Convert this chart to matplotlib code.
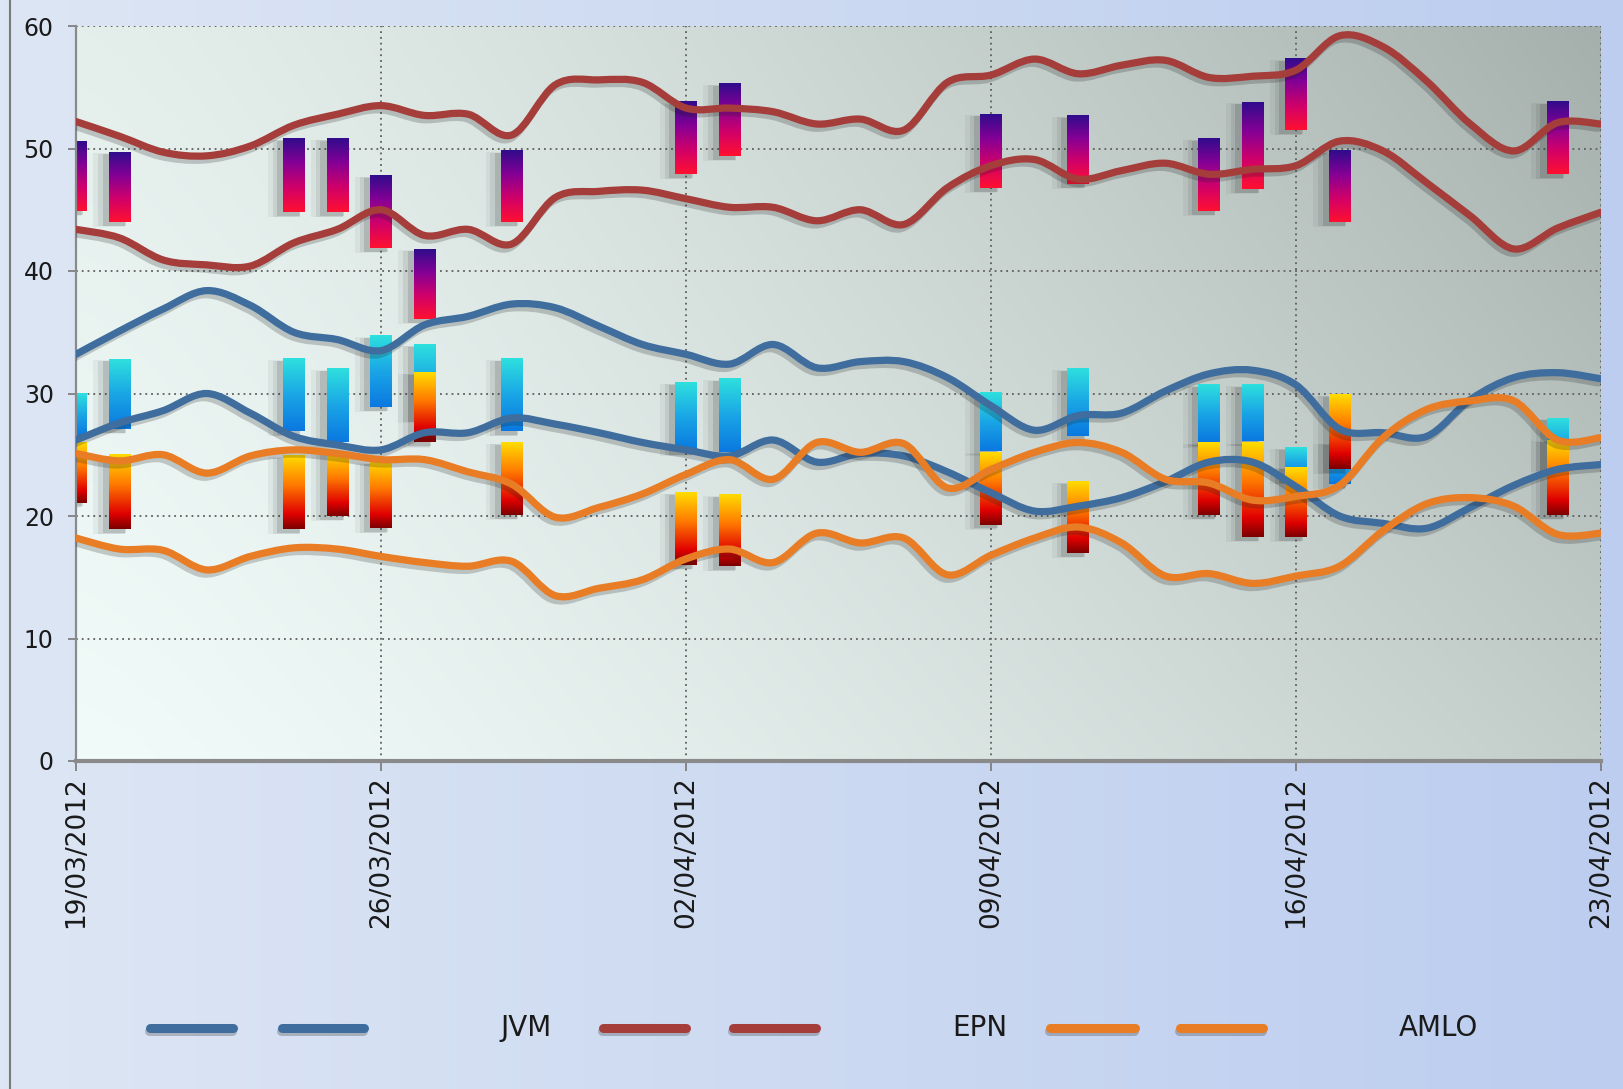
import numpy as np
import matplotlib
matplotlib.use("Agg")
import matplotlib.pyplot as plt
from matplotlib.colors import LinearSegmentedColormap, to_rgb
from matplotlib.lines import Line2D
from matplotlib.patches import Rectangle, PathPatch
from matplotlib.path import Path
import matplotlib.patheffects as pe

# ---------------- data ----------------
# day offsets from 19/03/2012
days = list(range(36))
tick_days = [0, 7, 14, 21, 28, 35]
tick_labels = ['19/03/2012', '26/03/2012', '02/04/2012', '09/04/2012', '16/04/2012', '23/04/2012']
y_ticks = [0, 10, 20, 30, 40, 50, 60]

jvm_upper = [33.2, 35.1, 36.9, 38.4, 37.2, 35.0, 34.4, 33.5, 35.6, 36.3, 37.3, 37.0,
             35.5, 34.0, 33.2, 32.4, 34.0, 32.1, 32.6, 32.6, 31.3, 29.0, 27.0, 28.2,
             28.4, 30.2, 31.6, 31.9, 30.7, 27.1, 26.8, 26.5, 29.5, 31.3, 31.7, 31.2]
jvm_lower = [26.2, 27.6, 28.6, 30.0, 28.4, 26.5, 25.8, 25.4, 26.8, 26.8, 28.0, 27.5,
             26.8, 26.0, 25.4, 24.9, 26.2, 24.4, 25.1, 24.9, 23.6, 21.9, 20.4, 20.8,
             21.5, 22.8, 24.4, 24.4, 22.4, 20.0, 19.4, 19.0, 20.7, 22.5, 23.8, 24.2]
epn_upper = [52.2, 51.0, 49.7, 49.4, 50.2, 51.9, 52.8, 53.5, 52.7, 52.8, 51.1, 55.2,
             55.6, 55.4, 53.3, 53.3, 53.0, 52.0, 52.4, 51.5, 55.4, 56.0, 57.3, 56.1,
             56.8, 57.2, 55.8, 55.9, 56.4, 59.2, 58.3, 55.5, 52.0, 49.8, 52.1, 52.0]
epn_lower = [43.4, 42.7, 40.9, 40.5, 40.4, 42.3, 43.4, 45.0, 42.9, 43.4, 42.2, 46.0,
             46.5, 46.6, 45.9, 45.2, 45.2, 44.1, 45.0, 43.8, 46.8, 48.6, 49.1, 47.5,
             48.2, 48.8, 47.9, 48.3, 48.6, 50.6, 49.8, 47.2, 44.5, 41.8, 43.5, 44.8]
amlo_upper = [25.1, 24.5, 25.0, 23.5, 24.9, 25.4, 25.1, 24.6, 24.6, 23.6, 22.6, 19.9,
              20.7, 21.8, 23.4, 24.6, 23.0, 26.0, 25.2, 25.9, 22.3, 23.8, 25.2, 26.0,
              25.2, 23.0, 22.7, 21.3, 21.6, 22.5, 26.4, 28.7, 29.4, 29.4, 26.2, 26.4]
amlo_lower = [18.2, 17.3, 17.2, 15.6, 16.7, 17.4, 17.3, 16.7, 16.2, 15.9, 16.3, 13.5,
              14.1, 14.8, 16.5, 17.3, 16.2, 18.6, 17.8, 18.2, 15.2, 16.8, 18.2, 19.1,
              17.8, 15.1, 15.3, 14.5, 15.1, 15.9, 18.8, 21.0, 21.5, 20.8, 18.5, 18.6]

bar_days = [0, 1, 5, 6, 7, 8, 10, 14, 15, 21, 23, 26, 27, 28, 29, 34]
epn_bar_top = [50.6, 49.7, 50.8, 50.8, 47.8, 41.8, 49.8, 53.8, 55.3, 52.8, 52.7, 50.8, 53.8, 57.3, 49.8, 53.8]
epn_bar_bottom = [44.9, 44.0, 44.8, 44.8, 41.9, 36.1, 44.0, 47.9, 49.4, 46.8, 47.1, 44.9, 46.7, 51.5, 44.0, 47.9]
jvm_bar_top = [30.0, 32.8, 32.8, 32.0, 34.7, 34.0, 32.8, 30.9, 31.2, 30.1, 32.0, 30.7, 30.7, 25.6, 26.0, 28.0]
jvm_bar_bottom = [26.5, 27.1, 26.9, 26.0, 28.9, 28.0, 26.9, 25.3, 25.2, 25.3, 26.5, 26.0, 26.1, 23.0, 22.6, 24.0]
amlo_bar_top = [26.0, 25.0, 24.9, 25.2, 24.4, 31.7, 26.0, 21.9, 21.7, 25.2, 22.8, 26.0, 26.0, 24.0, 29.9, 26.2]
amlo_bar_bottom = [21.1, 18.9, 18.9, 20.0, 19.0, 26.0, 20.1, 16.0, 15.9, 19.3, 17.0, 20.1, 18.3, 18.3, 23.8, 20.1]

legend_labels = ['JVM', 'EPN', 'AMLO']

# ---------------- styles ----------------
c_jvm = '#3f6d9d'
c_epn = '#a53d3a'
c_amlo = '#e87d25'
cmap_epn = LinearSegmentedColormap.from_list('epn', ['#ff1030', '#d0006a', '#850095', '#300c8c'])
cmap_jvm = LinearSegmentedColormap.from_list('jvm', ['#0a78e0', '#1aa6e6', '#2ee0de'])
cmap_amlo = LinearSegmentedColormap.from_list('amlo', [(0, '#7c0000'), (0.2, '#e00000'),
                                                       (0.6, '#ff7a00'), (1, '#ffdc00')])

W, H = 1623, 1089
fig = plt.figure(figsize=(W / 100, H / 100), dpi=100)

# figure background gradient
bg = fig.add_axes([0, 0, 1, 1], zorder=-10)
gx = np.linspace(0, 1, 256)
gy = np.linspace(0, 1, 64)
GX, GY = np.meshgrid(gx, gy)
left_c = np.array(to_rgb('#dde6f4'))
right_c = np.array(to_rgb('#bccdef'))
img = left_c[None, None, :] * (1 - GX[..., None]) + right_c[None, None, :] * GX[..., None]
bg.imshow(img, extent=[0, 1, 0, 1], aspect='auto', origin='lower')
bg.set_axis_off()

ax = fig.add_axes([76 / W, 1 - 761 / H, (1601 - 76) / W, (761 - 26) / H])

# plot-area gradient (bilinear between corners)
tl = np.array(to_rgb('#e4efec')); tr = np.array(to_rgb('#a5afab'))
bl = np.array(to_rgb('#f1fcfa')); br = np.array(to_rgb('#c3cecb'))
ux = np.linspace(0, 1, 256) ** 1.3
uy = np.linspace(0, 1, 128)
UX, UY = np.meshgrid(ux, uy)
UX = UX[..., None]; UY = UY[..., None]
pimg = (bl * (1 - UX) * (1 - UY) + br * UX * (1 - UY) + tl * (1 - UX) * UY + tr * UX * UY)
ax.imshow(pimg, extent=[0, 35, 0, 60], aspect='auto', origin='lower', zorder=0,
          interpolation='bilinear')

bw = 0.5
grad = np.linspace(0, 1, 128).reshape(-1, 1)


def draw_bars(tops, bottoms, cmap, z):
    for d, t, b in zip(bar_days, tops, bottoms):
        for dx, a, grow in [(-0.24, 0.06, 0.22), (-0.18, 0.09, 0.12), (-0.12, 0.14, 0.04)]:
            ax.add_patch(Rectangle((d - bw / 2 + dx - grow / 2, b - 0.3 - grow / 2),
                                   bw + grow, (t - b) + 0.1 + grow,
                                   facecolor='#2a2a2a', edgecolor='none', alpha=a, zorder=z - 0.1))
        ax.imshow(grad, extent=[d - bw / 2, d + bw / 2, b, t], aspect='auto', origin='lower',
                  cmap=cmap, zorder=z, interpolation='bilinear')


draw_bars(jvm_bar_top, jvm_bar_bottom, cmap_jvm, 2.2)
draw_bars(epn_bar_top, epn_bar_bottom, cmap_epn, 2.3)
draw_bars(amlo_bar_top, amlo_bar_bottom, cmap_amlo, 2.4)


def smooth_path(xs, ys):
    """Smoothed (Catmull-Rom style) cubic Bezier path through the data points."""
    P = np.column_stack([xs, ys]).astype(float)
    n = len(P)
    verts = [P[0]]
    codes = [Path.MOVETO]
    for i in range(n - 1):
        p0 = P[i - 1] if i > 0 else P[i]
        p1, p2 = P[i], P[i + 1]
        p3 = P[i + 2] if i + 2 < n else P[i + 1]
        c1 = p1 + (p2 - p0) / 6.0
        c2 = p2 - (p3 - p1) / 6.0
        verts += [c1, c2, p2]
        codes += [Path.CURVE4] * 3
    return Path(verts, codes)


shadow = [pe.SimpleLineShadow(offset=(-2, -3), shadow_color='#202020', alpha=0.22), pe.Normal()]
for ys, c in [(jvm_upper, c_jvm), (jvm_lower, c_jvm), (epn_upper, c_epn), (epn_lower, c_epn),
              (amlo_upper, c_amlo), (amlo_lower, c_amlo)]:
    patch = PathPatch(smooth_path(days, ys), facecolor='none', edgecolor=c, lw=5.2,
                      capstyle='round', joinstyle='round', zorder=3, path_effects=shadow)
    ax.add_patch(patch)

ax.set_xlim(0, 35)
ax.set_ylim(0, 60)
ax.set_xticks(tick_days)
ax.set_xticklabels(tick_labels, rotation=90, fontsize=19, color='#1a1a1a', va='top', ha='center')
ax.set_yticks(y_ticks)
ax.set_yticklabels([str(v) for v in y_ticks], fontsize=17, color='#1a1a1a')
ax.tick_params(axis='x', length=7, width=1.2, color='#777777', pad=4)
ax.tick_params(axis='y', length=6, width=1.2, color='#777777', pad=10)
ax.grid(True, linestyle=(0, (1, 2.2)), color='#5e5e5e', lw=1.3, zorder=1.5)
for s in ['top', 'right']:
    ax.spines[s].set_visible(False)
ax.spines['left'].set_color('#8a8a8a')
ax.spines['left'].set_linewidth(1.6)
ax.spines['bottom'].set_color('#8a8a8a')
ax.spines['bottom'].set_linewidth(3)

# outer frame line on the left
fig.add_artist(Line2D([10 / W, 10 / W], [0, 1], color='#7a7a7a', lw=1.5))

# legend drawn manually
ly = 1 - 1028 / H
lshadow = [pe.SimpleLineShadow(offset=(-1, -2), shadow_color='#202020', alpha=0.25), pe.Normal()]
handles = [(150, 233, c_jvm), (282, 364, c_jvm), (603, 686, c_epn), (733, 816, c_epn),
           (1050, 1135, c_amlo), (1180, 1263, c_amlo)]
for x0, x1, c in handles:
    fig.add_artist(Line2D([x0 / W, x1 / W], [ly, ly], color=c, lw=6.5, solid_capstyle='round',
                          path_effects=lshadow))
for x, lab in zip([500, 952, 1399], legend_labels):
    fig.text(x / W, ly, lab, fontsize=20, color='#1a1a1a', va='center', ha='left')

fig.savefig('out.png', dpi=100)
